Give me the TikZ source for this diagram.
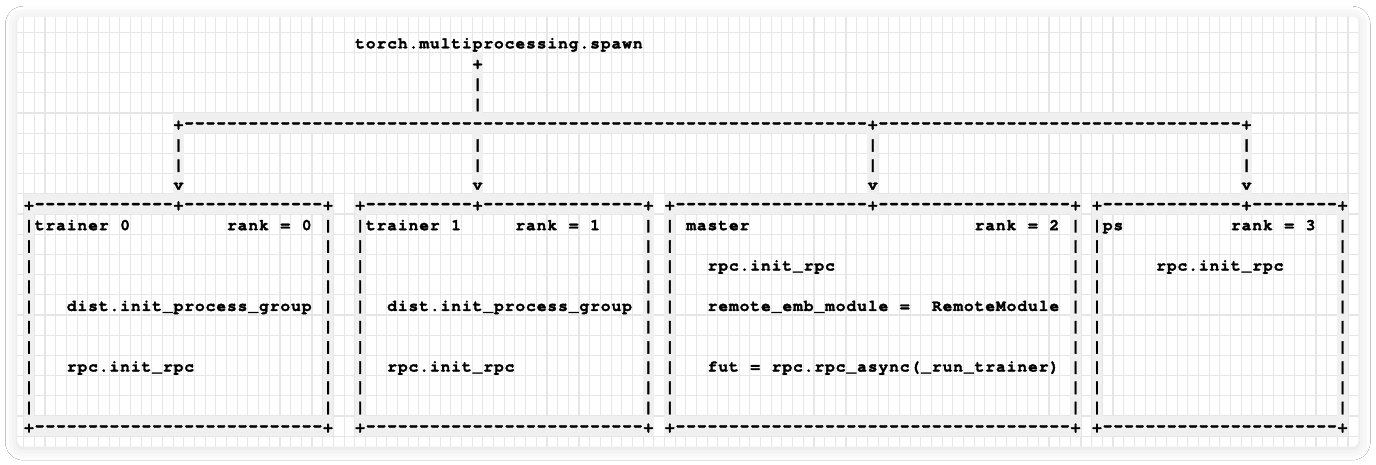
\documentclass[tikz,border=0pt]{standalone}
\usepackage{fontspec}
\usepackage{graphicx}
\setmonofont{texgyrecursor}[Extension=.otf, UprightFont=*-regular, BoldFont=*-bold, BoldFeatures={FakeBold=2.2}]
\usetikzlibrary{shadows.blur}
\definecolor{gridc}{HTML}{E6E6E6}
\definecolor{cellc}{HTML}{F0F0F0}
\definecolor{inkc}{HTML}{000000}
\newlength\cw \setlength\cw{10.68pt}
\makeatletter
\def\mono#1{\mono@loop#1\relax}
\def\mono@loop#1{\ifx#1\relax\else\makebox[\cw]{#1}\expandafter\mono@loop\fi}
\makeatother
\ExplSyntaxOn
\NewDocumentCommand\dashrun{m}{\prg_replicate:nn{#1}{\makebox[\cw]{\scalebox{0.95}[1.3]{-}}}}
\ExplSyntaxOff
\newcommand\txt[4]{\node[asc] (#1) at ({23.66+10.68*(#2)},{48.3+20.2*(#3)}) {#4};}
\newcommand\cellfill[4]{\fill[cellc] ({23.66+10.68*(#1)},{32.2+20.2*(#2)}) rectangle ({23.66+10.68*(#3+1)},{32.2+20.2*(#4+1)});}
\tikzset{
  asc/.style={anchor=base west, inner sep=0pt, outer sep=0pt, text=inkc,
    font=\ttfamily\bfseries\fontsize{16}{16}\selectfont},
  card/.style={fill=white, rounded corners=6pt,
    blur shadow={shadow blur radius=12pt, shadow xshift=0pt, shadow yshift=-1.5pt, shadow opacity=14}},
  gridline/.style={draw=gridc, line width=1.1pt}
}
\begin{document}
\begin{tikzpicture}[x=1pt,y=-1pt]
\fill[white] (0,0) rectangle (1376,465);
\useasboundingbox (0,0) rectangle (1376,465);
\path[card] (17.3,16.7) rectangle (1358.3,446.7);
\begin{scope}
  \clip[rounded corners=6pt] (17.3,16.7) rectangle (1358.3,446.7);
  \foreach \k in {-1,...,125} \draw[gridline] ({23.66+10.68*\k},0) -- ++(0,465);
  \foreach \k in {-1,...,21} \draw[gridline] (0,{32.2+20.2*\k}) -- ++(1376,0);
  % grey cells behind line characters
  \cellfill{42}{1}{42}{3}
  \cellfill{14}{4}{114}{4}
  \foreach \c in {14,42,79,114} {\cellfill{\c}{5}{\c}{7}}
  \foreach \a/\b in {0/28,31/58,60/98,100/123} {
    \cellfill{\a}{8}{\b}{8}
    \cellfill{\a}{19}{\b}{19}
    \cellfill{\a}{9}{\a}{18}
    \cellfill{\b}{9}{\b}{18}
  }
\end{scope}
% spawn and fan-out
\txt{title}{31}{0}{\mono{torch.multiprocessing.spawn}}
\txt{root}{42}{1}{\mono{+}}
\txt{rootA}{42}{2}{\mono{|}}
\txt{rootB}{42}{3}{\mono{|}}
\txt{bus}{14}{4}{\mono{+}\dashrun{64}\mono{+}\dashrun{34}\mono{+}}
\foreach \c/\n in {14/a,42/b,79/c,114/d} {
  \txt{drop\n1}{\c}{5}{\mono{|}}
  \txt{drop\n2}{\c}{6}{\mono{|}}
  \txt{arrow\n}{\c}{7}{\mono{v}}
}
% box outlines
\txt{boxAtop}{0}{8}{\mono{+}\dashrun{13}\mono{+}\dashrun{13}\mono{+}}
\txt{boxAbot}{0}{19}{\mono{+}\dashrun{27}\mono{+}}
\txt{boxBtop}{31}{8}{\mono{+}\dashrun{10}\mono{+}\dashrun{15}\mono{+}}
\txt{boxBbot}{31}{19}{\mono{+}\dashrun{26}\mono{+}}
\txt{boxCtop}{60}{8}{\mono{+}\dashrun{18}\mono{+}\dashrun{18}\mono{+}}
\txt{boxCbot}{60}{19}{\mono{+}\dashrun{37}\mono{+}}
\txt{boxDtop}{100}{8}{\mono{+}\dashrun{13}\mono{+}\dashrun{8}\mono{+}}
\txt{boxDbot}{100}{19}{\mono{+}\dashrun{22}\mono{+}}
\foreach \a/\b/\n in {0/28/A,31/58/B,60/98/C,100/123/D} {
  \foreach \r in {9,...,18} {
    \txt{box\n l\r}{\a}{\r}{\mono{|}}
    \txt{box\n r\r}{\b}{\r}{\mono{|}}
  }
}
% trainer 0
\txt{tAname}{1}{9}{\mono{trainer~0}}
\txt{tArank}{19}{9}{\mono{rank~=~0}}
\txt{tAdist}{4}{13}{\mono{dist.init\_process\_group}}
\txt{tArpc}{4}{16}{\mono{rpc.init\_rpc}}
% trainer 1
\txt{tBname}{32}{9}{\mono{trainer~1}}
\txt{tBrank}{46}{9}{\mono{rank~=~1}}
\txt{tBdist}{34}{13}{\mono{dist.init\_process\_group}}
\txt{tBrpc}{34}{16}{\mono{rpc.init\_rpc}}
% master
\txt{mname}{62}{9}{\mono{master}}
\txt{mrank}{89}{9}{\mono{rank~=~2}}
\txt{mrpc}{64}{11}{\mono{rpc.init\_rpc}}
\txt{memb}{64}{13}{\mono{remote\_emb\_module~=~~RemoteModule}}
\txt{mfut}{64}{16}{\mono{fut~=~rpc.rpc\_async(\_run\_trainer)}}
% ps
\txt{psname}{101}{9}{\mono{ps}}
\txt{psrank}{113}{9}{\mono{rank~=~3}}
\txt{psrpc}{106}{11}{\mono{rpc.init\_rpc}}
\end{tikzpicture}
\end{document}
